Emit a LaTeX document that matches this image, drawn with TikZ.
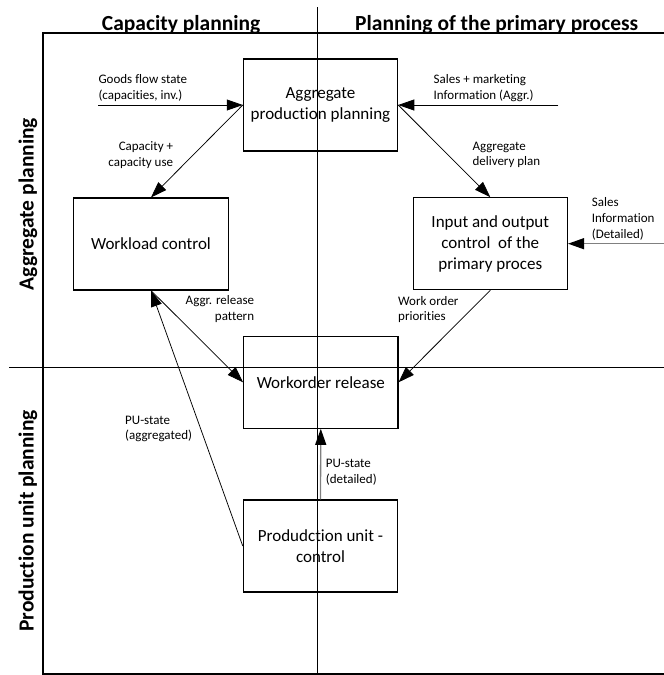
\documentclass[tikz,border=0pt]{standalone}
\usepackage{fontspec}
\setmainfont{Carlito}[Ligatures=NoCommon]
\usetikzlibrary{arrows.meta}
\definecolor{linegray}{RGB}{128,128,128}
\begin{document}
\begin{tikzpicture}[x=1pt,y=-1pt,
  box/.style={draw, line width=1.1pt, minimum width=154.4pt, minimum height=92pt, inner sep=0pt, align=center, font=\fontsize{17}{21}\selectfont},
  lbl/.style={inner sep=0pt, font=\fontsize{13}{15.7}\selectfont},
  hdr/.style={inner sep=0pt, font=\fontsize{21.5}{25}\selectfont\bfseries},
  frame/.style={line width=2pt},
  divider/.style={line width=0.9pt},
  arr/.style={line width=0.75pt, -{Triangle[length=16pt,width=11pt,color=black]}},
  grayarr/.style={line width=1.3pt, draw=linegray, -{Triangle[length=16pt,width=11pt,color=black]}}
]
\useasboundingbox (0,0) rectangle (664,675);

% frame
\coordinate (ftl) at (42.5,33.3);
\coordinate (ftr) at (666,33.3);
\coordinate (fbl) at (42.5,674);
\coordinate (fbr) at (666,674);
\draw[frame] (ftr) -- (ftl) -- (fbl) -- (fbr);

% dividers
\coordinate (vt) at (317.7,7.3);
\coordinate (vb) at (317.7,676);
\coordinate (hl) at (9.3,367.3);
\coordinate (hr) at (666,367.3);
\draw[divider] (vt) -- (vb);
\draw[divider] (hl) -- (hr);

% headers
\node[hdr, anchor=base west] (h1) at (101.7,30.7) {Capacity planning};
\node[hdr, anchor=base west] (h2) at (355,30.7) {Planning of the primary process};
\node[hdr, anchor=base west, rotate=90] (h3) at (33.5,290.5) {Aggregate planning};
\node[hdr, anchor=base west, rotate=90] (h4) at (33.5,631.7) {Production unit planning};

% boxes
\node[box] (agg) at (320.5,105) {Aggregate\\production planning};
\node[box] (wl) at (151,244) {Workload control};
\node[box] (io) at (490.3,243.7) {Input and output\\control\ \ of the\\primary proces};
\node[box] (wo) at (320.8,382.3) {Workorder release};
\node[box] (pu) at (320.5,546) {Produdction unit -\\control};

% free ends
\coordinate (gf) at (98.3,105);
\coordinate (sm) at (558.3,105);
\coordinate (sd) at (666,243.7);

% connectors
\draw[arr] (gf) -- (agg.west);
\draw[arr] (sm) -- (agg.east);
\draw[arr] (agg.west) -- (wl.north);
\draw[arr] (agg.east) -- (io.north);
\draw[grayarr] (sd) -- (io.east);
\draw[arr] (io.south) -- (wo.east);
\draw[arr] (wl.south) -- (wo.west);
\draw[arr] (pu.west) -- (wl.south);
\draw[grayarr] (pu.north) -- (wo.south);

% labels
\node[lbl, anchor=west, align=left] (l1) at (98.3,88) {Goods flow state\\(capacities, inv.)};
\node[lbl, anchor=west, align=left] (l2) at (433.5,88) {Sales + marketing\\Information (Aggr.)};
\node[lbl, anchor=east, align=right] (l3) at (173.3,155) {Capacity +\\capacity use};
\node[lbl, anchor=west, align=left] (l4) at (472.3,155) {Aggregate\\delivery plan};
\node[lbl, anchor=west, align=left] (l5) at (591.7,219) {Sales\\Information\\(Detailed)};
\node[lbl, anchor=west, align=left] (l6) at (398,309.5) {Work order\\priorities};
\node[lbl, anchor=east, align=right] (l7) at (254.3,309.2) {Aggr. release\\pattern};
\node[lbl, anchor=west, align=left] (l8) at (125,429) {PU-state\\(aggregated)};
\node[lbl, anchor=west, align=left] (l9) at (325.7,472) {PU-state\\(detailed)};
\end{tikzpicture}
\end{document}
